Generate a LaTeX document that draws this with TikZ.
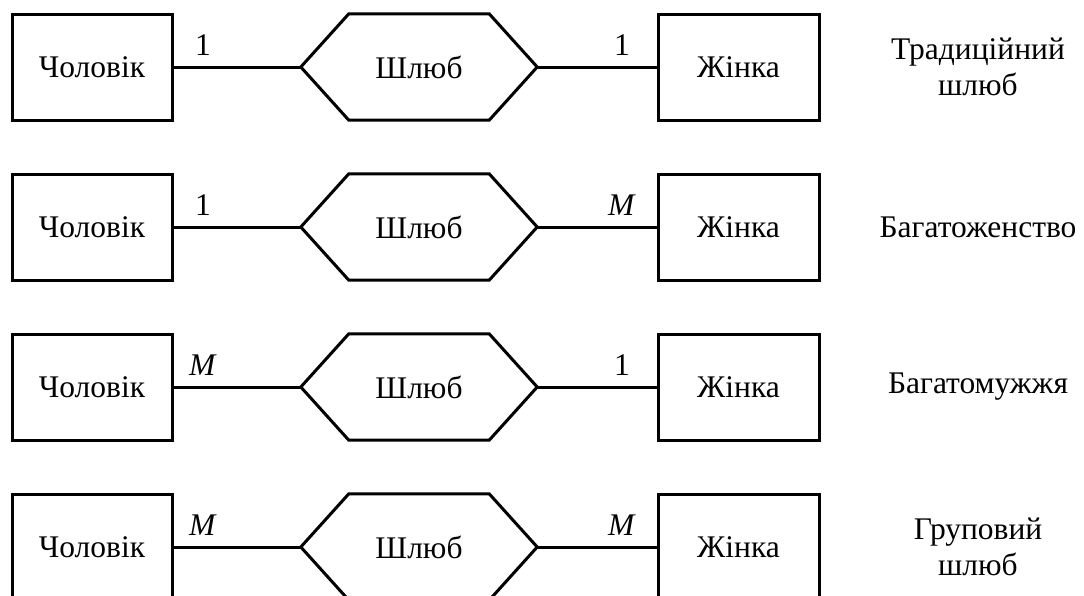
\documentclass[tikz,border=0pt]{standalone}
\usepackage{fontspec}
\setmainfont{Liberation Serif}
\begin{document}
\begin{tikzpicture}[x=1pt,y=-1pt,
  every node/.style={font=\fontsize{31.5}{36}\selectfont, inner sep=0pt},
  ent/.style={draw, line width=3pt, minimum width=160pt, minimum height=106pt},
  rel/.style={minimum width=236pt, minimum height=106pt},
  conn/.style={line width=3pt},
  card/.style={anchor=center},
  kind/.style={align=center}]
\useasboundingbox (0,0) rectangle (1084,595);
\foreach \i/\y/\lc/\rc/\txt in {
  1/67/1/1/{Традиційний\\шлюб},
  2/227/1/\textit{M}/{Багатоженство},
  3/387/\textit{M}/1/{Багатомужжя},
  4/547/\textit{M}/\textit{M}/{Груповий\\шлюб}} {
  \node[ent] (m\i) at (92,\y) {Чоловік};
  \node[ent, minimum width=161pt] (w\i) at (738.5,\y) {Жінка};
  \node[rel] (s\i) at (419,\y) {Шлюб};
  \draw[conn, line join=miter] (s\i.west) -- ([xshift=48pt]s\i.north west) -- ([xshift=-48pt]s\i.north east)
     -- (s\i.east) -- ([xshift=-48pt]s\i.south east) -- ([xshift=48pt]s\i.south west) -- cycle;
  \draw[conn] (m\i.east) -- (s\i.west);
  \draw[conn] (s\i.east) -- (w\i.west);
  \node[card] (lc\i) at (203,\y-22) {\lc};
  \node[card] (rc\i) at (622,\y-22) {\rc};
  \node[kind] (k\i) at (978,\y) {\txt};
}
\end{tikzpicture}
\end{document}
